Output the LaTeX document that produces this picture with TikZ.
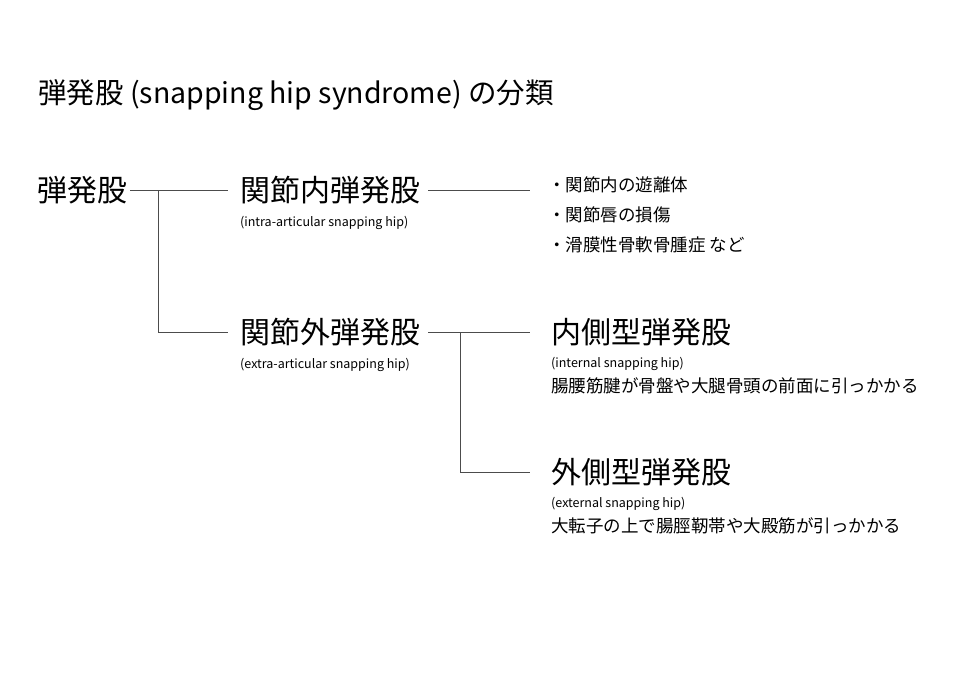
\documentclass[tikz,border=0pt]{standalone}
\usepackage{fontspec}
\setmainfont{Noto Sans CJK JP}
\usetikzlibrary{positioning}
\tikzstyle{big}=[anchor=west, inner sep=0pt, font=\fontsize{30}{33}\selectfont]
\tikzstyle{sub}=[anchor=north west, inner sep=0pt, font=\fontsize{12.5}{14}\selectfont]
\tikzstyle{txt}=[anchor=west, inner sep=0pt, font=\fontsize{17.5}{20}\selectfont]
\tikzstyle{branch}=[-, draw=black!70, line width=0.8pt]
\begin{document}
\begin{tikzpicture}[x=1pt,y=-1pt]
        \useasboundingbox[fill=white] (0,0) rectangle (960,679);
        \node [anchor=west, inner sep=0pt, font=\fontsize{28.5}{31}\selectfont] (Title) at (38, 95) {弾発股 (snapping hip syndrome) の分類};

        %root
        \node [style=big] (Root) at (37, 190) {弾発股};
        \node [style=big] (Intra) at (240, 190) {関節内弾発股};
        \node [style=sub, below=12pt of Intra.south west, anchor=north west] (IntraSub) {(intra-articular snapping hip)};
        \node [style=big] (Extra) at (240, 332) {関節外弾発股};
        \node [style=sub, below=12pt of Extra.south west, anchor=north west] (ExtraSub) {(extra-articular snapping hip)};

        %intra causes
        \node [style=txt] (C1) at (548, 185) {・関節内の遊離体};
        \node [style=txt] (C2) at (548, 215) {・関節唇の損傷};
        \node [style=txt] (C3) at (548, 245) {・滑膜性骨軟骨腫症 など};

        %extra types
        \node [style=big] (Int) at (551, 332) {内側型弾発股};
        \node [style=sub, below=11pt of Int.south west, anchor=north west] (IntSub) {(internal snapping hip)};
        \node [style=txt, below=7pt of IntSub.south west, anchor=north west] (IntTxt) {腸腰筋腱が骨盤や大腿骨頭の前面に引っかかる};
        \node [style=big] (Ext) at (551, 472) {外側型弾発股};
        \node [style=sub, below=11pt of Ext.south west, anchor=north west] (ExtSub) {(external snapping hip)};
        \node [style=txt, below=7pt of ExtSub.south west, anchor=north west] (ExtTxt) {大転子の上で腸脛靭帯や大殿筋が引っかかる};

        \coordinate (J1) at (158, 190);
        \coordinate (J2) at (460, 332);
        \coordinate (E1) at (530, 190);
        \coordinate (E2) at (530, 332);
        \coordinate (E3) at (530, 472);

        \draw [style=branch] ([xshift=3pt]Root.east) -- ([xshift=-12pt]Intra.west);
        \draw [style=branch] (J1) |- ([xshift=-12pt]Extra.west);
        \draw [style=branch] ([xshift=8pt]Intra.east) -- (E1);
        \draw [style=branch] ([xshift=8pt]Extra.east) -- (E2);
        \draw [style=branch] (J2) |- (E3);
\end{tikzpicture}
\end{document}
